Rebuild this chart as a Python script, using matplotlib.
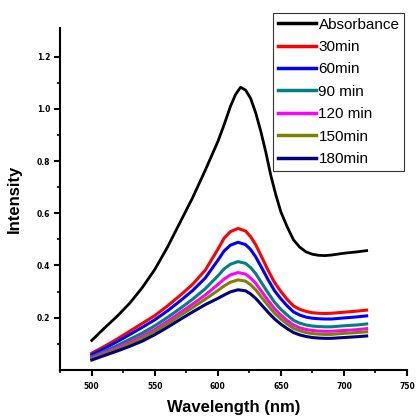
import matplotlib
matplotlib.use("Agg")
import matplotlib.pyplot as plt
from matplotlib.ticker import MultipleLocator, FixedLocator

wavelength = [500, 510, 520, 530, 540, 550, 560, 570, 580, 590, 600, 605, 610, 616,
              622, 626, 630, 635, 640, 645, 650, 655, 660, 665, 670, 675, 680, 685,
              690, 700, 710, 718]

absorbance_wl = [500, 510, 520, 530, 540, 550, 560, 570, 580, 590, 600, 605, 610, 614,
                 618, 622, 626, 630, 634, 638, 642, 646, 650, 655, 660, 665, 670, 675,
                 680, 685, 690, 700, 710, 718]
absorbance = [0.113, 0.16, 0.205, 0.255, 0.315, 0.385, 0.47, 0.565, 0.66, 0.765, 0.875, 0.94,
              1.01, 1.055, 1.083, 1.072, 1.04, 0.985, 0.915, 0.835, 0.745, 0.67, 0.605, 0.548,
              0.498, 0.47, 0.452, 0.443, 0.439, 0.438, 0.44, 0.447, 0.452, 0.457]

min30 = [0.064, 0.090, 0.118, 0.148, 0.178, 0.208, 0.245, 0.285, 0.328, 0.382, 0.462, 0.505,
         0.530, 0.542, 0.532, 0.510, 0.480, 0.430, 0.380, 0.335, 0.300, 0.270, 0.245, 0.232,
         0.224, 0.219, 0.217, 0.216, 0.217, 0.221, 0.225, 0.229]
min60 = [0.058, 0.082, 0.108, 0.135, 0.163, 0.192, 0.226, 0.264, 0.304, 0.352, 0.420, 0.456,
         0.478, 0.489, 0.480, 0.461, 0.433, 0.389, 0.344, 0.303, 0.272, 0.245, 0.222, 0.210,
         0.202, 0.198, 0.196, 0.195, 0.195, 0.199, 0.203, 0.207]
min90 = [0.050, 0.071, 0.093, 0.117, 0.141, 0.169, 0.201, 0.235, 0.271, 0.311, 0.360, 0.387,
         0.405, 0.415, 0.408, 0.392, 0.369, 0.331, 0.294, 0.259, 0.232, 0.210, 0.190, 0.179,
         0.172, 0.168, 0.166, 0.165, 0.165, 0.169, 0.172, 0.176]
min120 = [0.045, 0.065, 0.085, 0.106, 0.129, 0.155, 0.186, 0.219, 0.252, 0.287, 0.327, 0.348,
          0.364, 0.373, 0.367, 0.352, 0.332, 0.298, 0.265, 0.234, 0.210, 0.189, 0.172, 0.161,
          0.155, 0.151, 0.149, 0.148, 0.148, 0.151, 0.154, 0.158]
min150 = [0.042, 0.061, 0.079, 0.099, 0.121, 0.147, 0.176, 0.208, 0.239, 0.271, 0.304, 0.322,
          0.336, 0.345, 0.340, 0.326, 0.307, 0.276, 0.246, 0.217, 0.195, 0.176, 0.159, 0.150,
          0.143, 0.139, 0.137, 0.136, 0.136, 0.140, 0.143, 0.146]
min180 = [0.038, 0.055, 0.072, 0.090, 0.110, 0.135, 0.163, 0.193, 0.222, 0.250, 0.274, 0.287,
          0.299, 0.307, 0.303, 0.291, 0.274, 0.247, 0.220, 0.195, 0.175, 0.158, 0.143, 0.134,
          0.128, 0.124, 0.122, 0.121, 0.121, 0.124, 0.127, 0.130]

labels = ["Absorbance", "30min", "60min", "90 min", "120 min", "150min", "180min"]
colors = ["#000000", "#FF0000", "#0000FF", "#008080", "#FF00FF", "#808000", "#000080"]
series = [min30, min60, min90, min120, min150, min180]

xticks = [500, 550, 600, 650, 700, 750]
yticks = [0.2, 0.4, 0.6, 0.8, 1.0, 1.2]

fig = plt.figure(figsize=(4.17, 4.19), dpi=100)
ax = fig.add_axes([0.1439, 0.1172, 0.8321, 0.8160])

lines = []
l, = ax.plot(absorbance_wl, absorbance, color=colors[0], lw=2.0, label=labels[0])
lines.append(l)
for s, c, lab in zip(series, colors[1:], labels[1:]):
    l, = ax.plot(wavelength, s, color=c, lw=2.2, label=lab)
    lines.append(l)

ax.set_xlim(474.8, 750)
ax.set_ylim(0, 1.31)
ax.set_xticks(xticks)
ax.set_xticklabels([str(v) for v in xticks])
ax.set_yticks(yticks)
ax.set_yticklabels([f"{v:.1f}" for v in yticks])
ax.xaxis.set_minor_locator(MultipleLocator(25))
ax.yaxis.set_minor_locator(FixedLocator([0.1, 0.3, 0.5, 0.7, 0.9, 1.1]))

for side in ["top", "right"]:
    ax.spines[side].set_visible(False)
for side in ["left", "bottom"]:
    ax.spines[side].set_linewidth(1.5)

ax.tick_params(which="major", direction="out", length=4, width=1.5, labelsize=5.5)
ax.tick_params(axis="x", which="major", pad=5)
ax.tick_params(axis="y", which="major", pad=3)
ax.tick_params(which="minor", direction="out", length=2.5, width=1.2)
for t in ax.get_xticklabels() + ax.get_yticklabels():
    t.set_fontweight("bold")

ax.set_xlabel("Wavelength (nm)", fontsize=12, fontweight="bold", family="Liberation Sans", labelpad=6.5)
ax.set_ylabel("Intensity", fontsize=12, fontweight="bold", family="Liberation Sans", labelpad=11)

leg = fig.legend(handles=lines, loc="upper right", bbox_to_anchor=(0.969, 0.969),
                 borderaxespad=0, fancybox=False, framealpha=1, edgecolor="#333333",
                 prop={"family": "Liberation Sans", "size": 11},
                 handlelength=2.5, handletextpad=0.15, labelspacing=0.55,
                 borderpad=0.3)
leg.get_frame().set_linewidth(0.8)
for h in leg.get_lines():
    h.set_linewidth(2.5)

fig.savefig("out.png", dpi=100)
